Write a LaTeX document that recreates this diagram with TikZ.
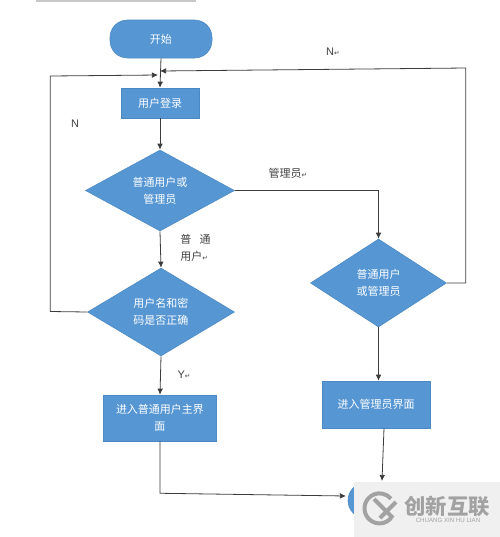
\documentclass[tikz,border=0pt]{standalone}
\usepackage{fontspec}
\setmainfont{Noto Sans CJK SC}
\newfontfamily\latinfont{Liberation Sans}
\newfontfamily\markfont{DejaVu Sans}
\usetikzlibrary{arrows.meta,positioning,shapes.geometric}
\definecolor{flowblue}{HTML}{5596D3}
\definecolor{flowedge}{HTML}{4C88C2}
\definecolor{linegray}{HTML}{3C3C3C}
\definecolor{labelgray}{HTML}{404040}
\definecolor{stampgray}{HTML}{A2A2A2}
\newcommand{\retmark}{{\markfont\fontsize{5}{5}\selectfont ↵}}
\tikzset{
  box/.style={rectangle,draw=flowedge,fill=flowblue,text=white,align=center,font=\fontsize{8.25}{12.75}\selectfont,inner sep=0pt},
  term/.style={box,rounded corners=13pt},
  decision/.style={box,diamond,aspect=1.6},
  arrow/.style={-{Latex[length=1.6mm,width=1.5mm]},line width=.6pt,draw=linegray},
  note/.style={text=labelgray,font=\fontsize{8.25}{12.75}\selectfont,inner sep=0pt}
}
\begin{document}
\begin{tikzpicture}[x=.75pt,y=-.75pt]
  \useasboundingbox (0,0) rectangle (500,537);
  \fill[black!22] (36,0) rectangle (196,1.5);
  \node[term,minimum width=76.5pt,minimum height=28.5pt] (start) at (161,39) {开始};
  \node[box,minimum width=58.5pt,minimum height=22.5pt] (login) at (160,103) {用户登录};
  \node[decision,minimum width=111.75pt,minimum height=60.75pt] (role) at (160,190.5) {普通用户或\\管理员};
  \node[decision,minimum width=110.25pt,minimum height=66pt] (check) at (161,312) {用户名和密\\码是否正确};
  \node[box,minimum width=84.75pt,minimum height=34.5pt] (usermain) at (160,418) {进入普通用户主界\\面};
  \node[decision,minimum width=102pt,minimum height=66pt] (role2) at (378.5,283) {普通用户\\或管理员};
  \node[box,minimum width=81pt,minimum height=35.25pt] (adminmain) at (376,404.5) {进入管理员界面};
  \node[term,minimum width=76.5pt,minimum height=26.25pt] (finish) at (399,500.5) {};
  \coordinate (loopl) at (158,75);
  \coordinate (loopr) at (160,71);
  \coordinate (finishl) at (346,496);
  \coordinate (finisht) at (382,481);
  \draw[arrow] (start.south) -- (login.north);
  \draw[arrow] (login.south) -- (role.north);
  \draw[arrow] (role.south) -- (check.north);
  \draw[arrow] (check.south) -- (usermain.north);
  \draw[arrow] (role.east) -| (role2.north);
  \draw[arrow] (role2.south) -- (adminmain.north -| role2.south);
  \draw[arrow] (check.west) -- ++(-37,-.5) -- ++(0,-235.5) -- (loopl);
  \draw[arrow] (role2.east) -- ++(19,0) -- ++(0,-215) -- (loopr);
  \draw[arrow] (usermain.south) -- ++(0,52) -- (finishl);
  \draw[arrow] (adminmain.south -| finisht) ++(2,0) -- (finisht);
  \node[note,font=\latinfont\fontsize{8.25}{12.75}\selectfont] (nleft) at (75,124) {N};
  \node[note,font=\latinfont\fontsize{8.25}{12.75}\selectfont] (nright) at (333,52) {N\retmark};
  \node[note] (admin) at (288,173.5) {管理员\retmark};
  \node[note,anchor=west] (normal) at (180,239) {普\hspace{.75em}通};
  \node[note,anchor=west] (normal2) at (180,256) {用户\retmark};
  \node[note,font=\latinfont\fontsize{8.25}{12.75}\selectfont] (yes) at (184,375) {Y\retmark};
  \node[fill=black!6,minimum width=109.5pt,minimum height=41.25pt,inner sep=0pt] (stamp) at (427,509.5) {};
  \draw[stampgray,line width=3pt] (391,518) arc (40:320:15);
  \draw[stampgray,line width=3pt] (374,499) -- (393,518);
  \draw[stampgray,line width=3pt] (396,502) -- (380,518);
  \node[text=stampgray,font=\fontsize{16}{16}\selectfont\bfseries,inner sep=0pt] (stampcn) at (447,506) {创新互联};
  \node[text=stampgray,font=\latinfont\fontsize{4.6}{5}\selectfont,inner sep=0pt] (stampen) at (448,520) {CHUANG XIN HU LIAN};
\end{tikzpicture}
\end{document}
